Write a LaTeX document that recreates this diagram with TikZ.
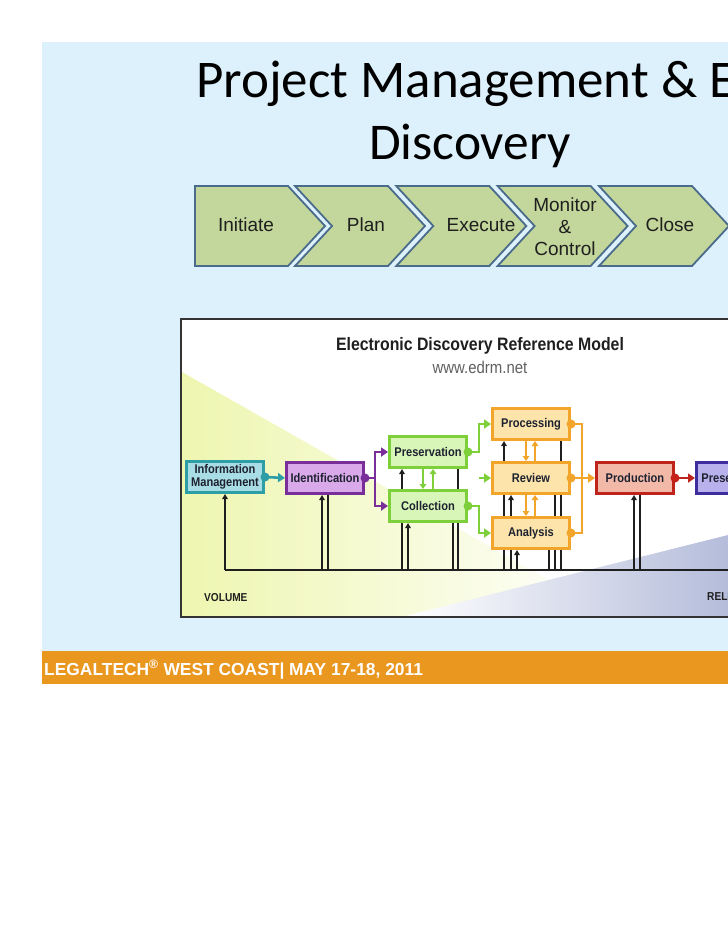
\documentclass[tikz,border=0pt]{standalone}
\usepackage{fontspec}
\setmainfont{Liberation Sans}
\newfontfamily\titlef{Carlito}
\newfontfamily\arialf{Liberation Sans}
\newfontfamily\condf{Liberation Sans}[FakeStretch=0.88]
\usetikzlibrary{arrows.meta}
\definecolor{slidebg}{HTML}{DCF1FB}
\definecolor{barorange}{HTML}{E9971F}
\definecolor{chevfill}{HTML}{C3D69B}
\definecolor{chevline}{HTML}{4B6B8A}
\definecolor{framec}{HTML}{333333}
\definecolor{yelc}{HTML}{EEF6B0}
\definecolor{bluec}{HTML}{B2BAD9}
\definecolor{imfill}{HTML}{A9DDE6}
\definecolor{imline}{HTML}{2E9EA6}
\definecolor{idfill}{HTML}{D9A9EA}
\definecolor{idline}{HTML}{7A2E9A}
\definecolor{grfill}{HTML}{D8F6B8}
\definecolor{grline}{HTML}{7ED03A}
\definecolor{orfill}{HTML}{FCE4AA}
\definecolor{orline}{HTML}{F2A52A}
\definecolor{pdfill}{HTML}{F2B9A9}
\definecolor{pdline}{HTML}{BE241C}
\definecolor{psfill}{HTML}{B9B1EC}
\definecolor{psline}{HTML}{3D2D9E}
\definecolor{boxtext}{HTML}{1E2230}
\begin{document}
\begin{tikzpicture}[x=1pt,y=-1pt,
  chev/.style={fill=chevfill, draw=chevline, line width=1.8pt, line join=miter},
  chevtext/.style={font=\arialf\fontsize{19}{22.5}\selectfont, text=black!88, align=center, inner sep=0pt},
  ebox/.style={rectangle, minimum width=77.4pt, minimum height=31.4pt, line width=2.6pt, inner sep=0pt,
    font=\condf\bfseries\fontsize{12.6}{13.5}\selectfont, text=boxtext, align=center},
  conn/.style={line width=2.6pt, line join=miter},
  carr/.style={conn, -{Triangle[width=9pt,length=7pt]}},
  dot/.style={circle, inner sep=0pt, minimum size=9pt},
  smarr/.style={line width=1.8pt, -{Triangle[width=6.5pt,length=5pt]}},
  fb/.style={line width=1.2pt, draw=black!88},
  fbarr/.style={fb, -{Triangle[width=5.5pt,length=5pt]}}
]
\useasboundingbox (0,0) rectangle (728,943);
\clip (0,0) rectangle (728,943);
\fill[white] (0,0) rectangle (728,943);
% slide background and footer bar
\fill[slidebg] (42,42) rectangle (728,651);
\fill[barorange] (42,651) rectangle (728,684);
\node[anchor=base west, inner sep=0pt, text=white, font=\arialf\bfseries\fontsize{17.4}{20}\selectfont] (foot) at (44,675)
  {LEGALTECH\textsuperscript{®} WEST COAST| MAY 17-18, 2011};
% title
\node[anchor=base west, inner sep=0pt, font=\titlef\fontsize{53}{62}\selectfont] (t1) at (196,97) {Project Management \& E-};
\node[anchor=base, inner sep=0pt, font=\titlef\fontsize{51.5}{62}\selectfont] (t2) at (470,159) {Discovery};
% chevrons
\draw[chev] (195,186) -- (288,186) -- (325,226) -- (288,266) -- (195,266) -- cycle;
\foreach \xo in {295,396.3,497.6,599}{
  \draw[chev] (\xo,186) -- ++(93,0) -- ++(37,40) -- ++(-37,40) -- ++(-93,0) -- ++(37,-40) -- cycle;
}
\node[chevtext, anchor=base] (c1) at (246,231) {Initiate};
\node[chevtext, anchor=base] (c2) at (366,231) {Plan};
\node[chevtext, anchor=base] (c3) at (481,231) {Execute};
\node[chevtext, anchor=base] (c4a) at (565,211) {Monitor};
\node[chevtext, anchor=base] (c4b) at (565,233) {\&};
\node[chevtext, anchor=base] (c4c) at (565,255.5) {Control};
\node[chevtext, anchor=base] (c5) at (670,231) {Close};
% EDRM picture frame
\fill[white] (181,319) rectangle (740,617);
\shade[left color=yelc, middle color=yelc!75, right color=white] (182,372) -- (182,616) -- (612,616) -- cycle;
\shade[left color=white, right color=bluec] (405,616) -- (740,532) -- (740,616) -- cycle;
\draw[framec, line width=1.8pt] (181,319) rectangle (740,617);
\node[anchor=base, inner sep=0pt, text=black!88, font=\condf\bfseries\fontsize{18}{20}\selectfont] (et) at (480,350) {Electronic Discovery Reference Model};
\node[anchor=base, inner sep=0pt, text=black!62, font=\condf\fontsize{17}{19}\selectfont] (ew) at (480,373) {www.edrm.net};
\node[anchor=base west, inner sep=0pt, text=black!88, font=\condf\bfseries\fontsize{11.5}{12}\selectfont] (vol) at (204,601) {VOLUME};
\node[anchor=base west, inner sep=0pt, text=black!88, font=\condf\bfseries\fontsize{11.5}{12}\selectfont] (rel) at (707,600) {RELEVANCE};
% feedback line coordinates
\coordinate (f0) at (225,570);
\coordinate (fE) at (740,570);
\coordinate (f322) at (322,570); \coordinate (f328) at (328,570);
\coordinate (f402) at (402,570); \coordinate (f408) at (408,570);
\coordinate (f453) at (453,570); \coordinate (f458) at (458,570);
\coordinate (f504) at (504,570); \coordinate (f511) at (511,570); \coordinate (f517) at (517,570);
\coordinate (f549) at (549,570); \coordinate (f555) at (555,570); \coordinate (f561) at (561,570);
\coordinate (f634) at (634,570); \coordinate (f640) at (640,570);
% boxes
\node[ebox, fill=imfill, draw=imline] (im) at (225,477) {Information\\Management};
\node[ebox, fill=idfill, draw=idline] (id) at (325,478) {Identification};
\node[ebox, fill=grfill, draw=grline] (pr) at (428,452) {Preservation};
\node[ebox, fill=grfill, draw=grline] (co) at (428,506) {Collection};
\node[ebox, fill=orfill, draw=orline] (pc) at (531,424) {Processing};
\node[ebox, fill=orfill, draw=orline] (rv) at (531,478) {Review};
\node[ebox, fill=orfill, draw=orline] (an) at (531,533) {Analysis};
\node[ebox, fill=pdfill, draw=pdline] (pd) at (635,478) {Production};
\node[ebox, fill=psfill, draw=psline] (ps) at (735,478) {Presentation};
% feedback lines
\draw[fb] (f0) -- (fE);
\draw[fbarr] (f0) -- (im.south);
\draw[fbarr] (f322) -- (f322 |- id.south);
\draw[fb] (f328) -- (f328 |- id.south);
\draw[fb] (f402) -- (f402 |- co.south);
\draw[fbarr] (f408) -- (f408 |- co.south);
\draw[fb] (f453) -- (f453 |- co.south);
\draw[fb] (f458) -- (f458 |- co.south);
\draw[fbarr] (f402 |- co.north) -- (f402 |- pr.south);
\draw[fb] (f458 |- co.north) -- (f458 |- pr.south);
\draw[fb] (f504) -- (f504 |- an.south);
\draw[fb] (f511) -- (f511 |- an.south);
\draw[fbarr] (f517) -- (f517 |- an.south);
\draw[fb] (f549) -- (f549 |- an.south);
\draw[fb] (f555) -- (f555 |- an.south);
\draw[fb] (f561) -- (f561 |- an.south);
\draw[fb] (f504 |- an.north) -- (f504 |- rv.south);
\draw[fbarr] (f511 |- an.north) -- (f511 |- rv.south);
\draw[fb] (f555 |- an.north) -- (f555 |- rv.south);
\draw[fb] (f561 |- an.north) -- (f561 |- rv.south);
\draw[fbarr] (f504 |- rv.north) -- (f504 |- pc.south);
\draw[fb] (f561 |- rv.north) -- (f561 |- pc.south);
\draw[fbarr] (f634) -- (f634 |- pd.south);
\draw[fb] (f640) -- (f640 |- pd.south);
% small up/down arrows
\draw[smarr, grline] ([xshift=-5pt]pr.south) -- ([xshift=-5pt]co.north);
\draw[smarr, grline] ([xshift=5pt]co.north) -- ([xshift=5pt]pr.south);
\draw[smarr, orline] ([xshift=-5pt]pc.south) -- ([xshift=-5pt]rv.north);
\draw[smarr, orline] ([xshift=4pt]rv.north) -- ([xshift=4pt]pc.south);
\draw[smarr, orline] ([xshift=-5pt]rv.south) -- ([xshift=-5pt]an.north);
\draw[smarr, orline] ([xshift=4pt]an.north) -- ([xshift=4pt]rv.south);
% connector junctions
\coordinate (pj) at (375,478);
\coordinate (gj) at (479,478);
\coordinate (oj) at (582,478);
% teal
\draw[carr, imline] (im.east) -- (id.west);
\node[dot, fill=imline] (imd) at (im.east) {};
% purple
\draw[conn, idline] (id.east) -- (pj);
\draw[carr, idline] (pj) |- (pr.west);
\draw[carr, idline] (pj) |- (co.west);
\node[dot, fill=idline] (idd) at (id.east) {};
% green
\draw[carr, grline] (pr.east) -| (gj |- pc.west) -- (pc.west);
\draw[carr, grline] (co.east) -| (gj |- an.west) -- (an.west);
\draw[carr, grline] (gj |- rv.west) -- (rv.west);
\node[dot, fill=grline] (prd) at (pr.east) {};
\node[dot, fill=grline] (cod) at (co.east) {};
% orange
\draw[conn, orline] (pc.east) -| (oj |- an.east) -- (an.east);
\draw[carr, orline] (rv.east) -- (pd.west);
\node[dot, fill=orline] (pcd) at (pc.east) {};
\node[dot, fill=orline] (rvd) at (rv.east) {};
\node[dot, fill=orline] (and) at (an.east) {};
% red
\draw[carr, pdline] (pd.east) -- (ps.west);
\node[dot, fill=pdline!90!red] (pdd) at (pd.east) {};
\end{tikzpicture}
\end{document}
